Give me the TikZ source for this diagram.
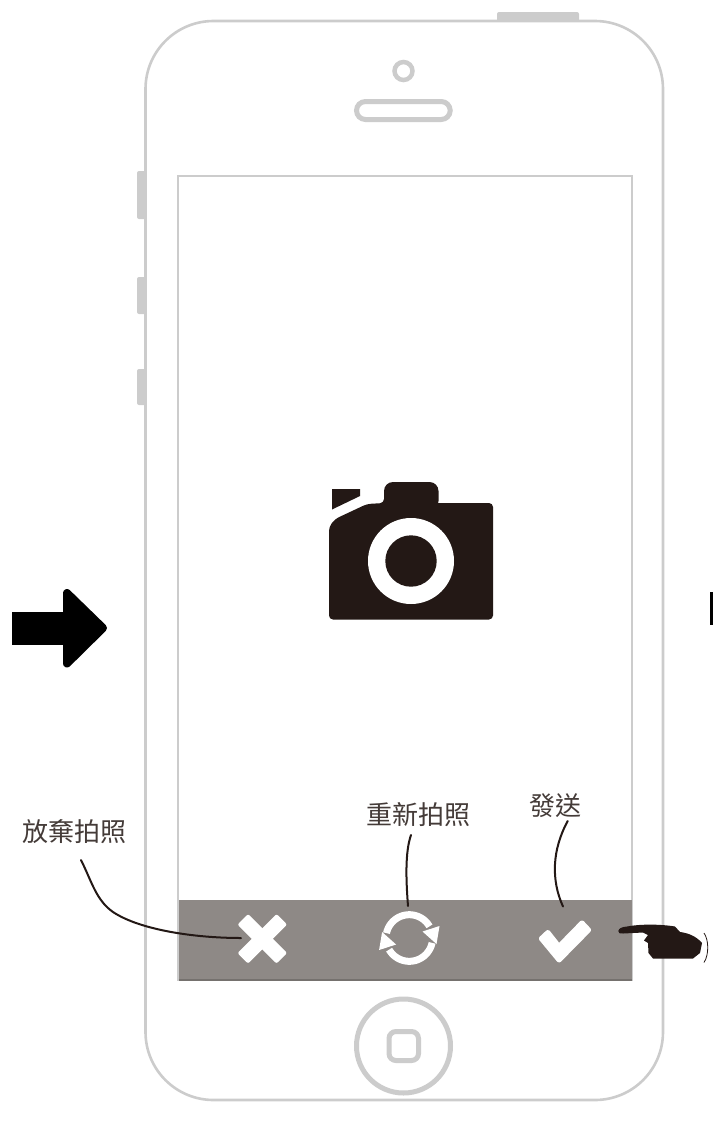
\documentclass[tikz,border=0pt]{standalone}
\usepackage{fontspec}
\newfontfamily\cjk{Noto Sans CJK TC}
\definecolor{frame}{HTML}{CCCCCC}
\definecolor{ink}{HTML}{231815}
\definecolor{barc}{HTML}{8E8986}
\definecolor{barl}{HTML}{75716E}
\tikzset{
  x=1pt,y=-1pt,
  outline/.style={draw=frame,line width=#1},
  sidekey/.style={fill=frame,rounded corners=2},
  icon/.style={fill=white,draw=white,line join=round},
  darkshape/.style={fill=ink},
  leader/.style={draw=ink,line width=2,line cap=round},
  callout/.style={font=\cjk\fontsize{26}{26}\selectfont,text=ink!85!white,inner sep=0pt}
}
\begin{document}
\begin{tikzpicture}
\useasboundingbox (0,0) rectangle (713,1128);
% side and top keys
\fill[sidekey] (137,171) rectangle (147,219);
\fill[sidekey] (137,277) rectangle (147,314);
\fill[sidekey] (137,369) rectangle (147,405);
\fill[sidekey] (497,12) rectangle (579,23);
% body
\draw[outline=2.6,fill=white,rounded corners=68] (145.5,21) rectangle (663,1100);
% earpiece, camera dot
\draw[outline=4.5] (403.5,71) circle (9);
\draw[outline=5,rounded corners=9] (356.5,101.5) rectangle (450.2,119.5);
% screen
\draw[outline=2] (177.5,175.5) rectangle (632,980);
\fill[barc] (178.5,900) rectangle (632,980);
\draw[barl,line width=1.5] (178.5,980) -- (632,980);
% home
\draw[outline=5] (403.5,1046) circle (47);
\draw[outline=5,rounded corners=7] (389,1031.5) rectangle (418.5,1060.5);
% camera
\fill[darkshape,rounded corners=4] (329,619.5) -- (329,527) -- (335,519) -- (367,504) -- (384,503) -- (384,503) -- (493,503) -- (493,619.5) -- cycle;
\fill[darkshape,rounded corners=9] (384,510) -- (384,482) -- (438.5,482) -- (438.5,510) -- cycle;
\fill[darkshape] (332,489) -- (360,489) -- (360,496) -- (332,509.5) -- cycle;
\fill[white] (411,561) circle (43);
\fill[darkshape] (411,561) circle (25.7);
% left arrow
\fill[black] (11.5,612) rectangle (67,645);
\fill[black,draw=black,line width=8,line join=round] (67,593) -- (103,628) -- (67,663.5) -- cycle;
% right fragment
\fill[black] (709.5,592) rectangle (713,625);
% cross
\fill[white,rounded corners=2,rotate around={45:(262.3,938.8)}] (234.7,931.3) rectangle (289.9,946.3);
\fill[white,rounded corners=2,rotate around={-45:(262.3,938.8)}] (234.7,931.3) rectangle (289.9,946.3);
\coordinate (crossEnd) at (241,938);
% refresh
\draw[white,line width=7] plot[domain=168:30,samples=30,smooth] ({409.3+23.3*cos(\x)},{938-23.3*sin(\x)});
\draw[white,line width=7] plot[domain=348:210,samples=30,smooth] ({409.3+23.3*cos(\x)},{938-23.3*sin(\x)});
\fill[white] (439.5,926) -- (422.5,931.5) -- (436.5,944) -- cycle;
\fill[white] (379.1,950) -- (396.1,944.5) -- (382.1,932) -- cycle;
\coordinate (refreshEnd) at (408,906);
% check
\draw[icon,line width=3,rounded corners=1] (540,938.5) -- (548,931) -- (559,945) -- (582,921.5) -- (590,930) -- (559,961.5) -- cycle;
\coordinate (checkEnd) at (563,906.5);
% labels
\node[callout] (giveup) at (75,832) {放棄拍照};
\node[callout] (retake) at (418,815) {重新拍照};
\node[callout] (send) at (555,806) {發送};
\coordinate (giveupStart) at (81,860);
\coordinate (retakeStart) at (411,835);
\coordinate (sendStart) at (567.7,821);
% leaders
\draw[leader] (giveupStart) .. controls (92,882) and (96,900) .. (113,912) .. controls (140,930) and (195,938) .. (crossEnd);
\draw[leader] (retakeStart) .. controls (405,852) and (406,880) .. (refreshEnd);
\draw[leader] (sendStart) .. controls (552,850) and (551,880) .. (checkEnd);
% hand
\fill[darkshape] (618.3,931) .. controls (619,928) and (622,927) .. (627,926.5) .. controls (640,924) and (660,924) .. (675,926.5) -- (680,932) .. controls (688,933) and (696,936) .. (702,943) -- (700,953) -- (693,958.5) -- (653,958.5) -- (648.5,953) -- (648,943) -- (644,940.5) -- (648,935) -- (643,932.5) -- (623,933.5) .. controls (620,934) and (618,933) .. (618.3,931) -- cycle;
\draw[ink,line width=0.8] (704,933) .. controls (709,940) and (709,955) .. (704,962.5);
\end{tikzpicture}
\end{document}
